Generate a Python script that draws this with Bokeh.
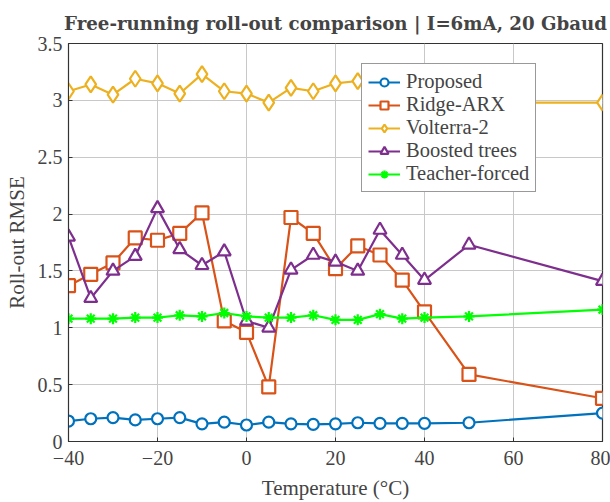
from bokeh.plotting import figure
from bokeh.models import Range1d, FixedTicker, CustomJSTickFormatter, Legend, LegendItem
from bokeh.embed import file_html
from bokeh.resources import INLINE

# Temperature points (°C)
temperature = [-40, -35, -30, -25, -20, -15, -10, -5, 0, 5, 10, 15, 20, 25, 30, 35, 40, 50, 80]

# Roll-out RMSE per model
proposed = [0.18, 0.20, 0.21, 0.19, 0.20, 0.21, 0.155, 0.17, 0.145, 0.17, 0.155, 0.15, 0.155, 0.165, 0.16, 0.16, 0.16, 0.165, 0.25]
ridge_arx = [1.37, 1.47, 1.57, 1.79, 1.77, 1.83, 2.01, 1.06, 0.96, 0.48, 1.97, 1.83, 1.52, 1.72, 1.64, 1.42, 1.14, 0.59, 0.38]
volterra_2 = [3.08, 3.14, 3.05, 3.19, 3.15, 3.06, 3.23, 3.08, 3.06, 2.98, 3.11, 3.08, 3.15, 3.17, 3.10, 3.05, 3.02, 2.98, 2.98]
boosted_trees = [1.80, 1.26, 1.50, 1.63, 2.05, 1.69, 1.55, 1.67, 1.06, 1.00, 1.51, 1.64, 1.58, 1.50, 1.86, 1.64, 1.42, 1.73, 1.41]
teacher_forced = [1.08, 1.08, 1.08, 1.09, 1.09, 1.11, 1.10, 1.13, 1.10, 1.09, 1.09, 1.11, 1.07, 1.07, 1.12, 1.08, 1.09, 1.10, 1.16]

x_ticks = [-40, -20, 0, 20, 40, 60, 80]
y_ticks = [0, 0.5, 1, 1.5, 2, 2.5, 3, 3.5]

SERIF = "Liberation Serif"

p = figure(
    frame_width=534, frame_height=398,
    min_border_left=68, min_border_right=8, min_border_top=43, min_border_bottom=61,
    output_backend="svg", toolbar_location=None,
    x_range=Range1d(-40, 80), y_range=Range1d(0, 3.5),
    title="Free-running roll-out comparison | I=6mA, 20 Gbaud",
)

p.title.text_font = "DejaVu Serif"
p.title.text_font_size = "18.2px"
p.title.text_font_style = "bold"
p.title.align = "center"
p.title.standoff = 19

p.outline_line_color = "#333333"
p.outline_line_width = 1.2

fmt = CustomJSTickFormatter(code="return tick.toString().replace('-', '\u2212');")
for ax, ticks in ((p.xaxis, x_ticks), (p.yaxis, y_ticks)):
    ax.ticker = FixedTicker(ticks=ticks)
    ax.formatter = fmt
    ax.major_label_text_font = SERIF
    ax.major_label_text_font_size = "20px"
    ax.axis_label_text_font = SERIF
    ax.axis_label_text_font_size = "21px"
    ax.axis_label_text_font_style = "normal"
    ax.axis_line_color = "#333333"
    ax.major_tick_in = 4
    ax.major_tick_out = 0
    ax.minor_tick_line_color = None
    ax.major_tick_line_color = "#333333"

p.xaxis.axis_label = "Temperature (°C)"
p.yaxis.axis_label = "Roll-out RMSE"
p.xaxis.major_label_standoff = 9
p.yaxis.major_label_standoff = 6
p.xaxis.axis_label_standoff = 8
p.yaxis.axis_label_standoff = 6

p.xgrid.ticker = FixedTicker(ticks=x_ticks)
p.ygrid.ticker = FixedTicker(ticks=y_ticks)
p.grid.grid_line_color = "#c8c8c8"
p.grid.grid_line_width = 1

series = [
    ("Proposed", proposed, "#0072BD", "circle", 11),
    ("Ridge-ARX", ridge_arx, "#D95319", "square", 13),
    ("Volterra-2", volterra_2, "#EDB120", "diamond", 16),
    ("Boosted trees", boosted_trees, "#7E2F8E", "triangle", 13),
    ("Teacher-forced", teacher_forced, "#00FF00", "asterisk", 11),
]

items = []
for name, vals, color, marker, size in series:
    ln = p.line(temperature, vals, line_color=color, line_width=2.2)
    mk = p.scatter(temperature, vals, marker=marker, size=size,
                   line_color=color, line_width=2.2,
                   fill_color="white")
    items.append(LegendItem(label=name, renderers=[ln, mk]))

legend = Legend(
    items=items, location=(293, 249),
    label_text_font=SERIF, label_text_font_size="20.5px",
    glyph_width=32, glyph_height=20, label_height=20,
    spacing=0, padding=6, margin=0, label_standoff=6,
    border_line_color="#333333", border_line_width=1.2,
    background_fill_color="white", background_fill_alpha=1.0,
)
p.add_layout(legend, "center")

open("out.html", "w").write(file_html(p, INLINE))
